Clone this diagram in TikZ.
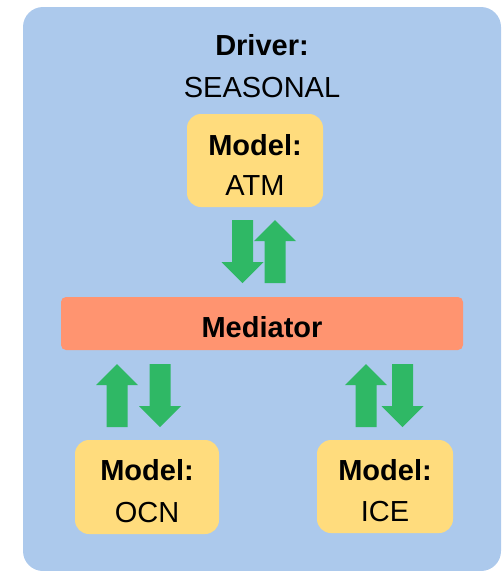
\documentclass[tikz,border=0pt]{standalone}
\usepackage{fontspec}
\setmainfont{Liberation Sans}
\definecolor{panelblue}{RGB}{172,201,236}
\definecolor{modelyellow}{RGB}{255,220,125}
\definecolor{medsalmon}{RGB}{255,148,112}
\definecolor{flowgreen}{RGB}{47,184,101}
\tikzset{
  txt/.style={font=\fontsize{29}{41}\selectfont, inner sep=0pt, anchor=base},
  boldtxt/.style={txt, font=\fontsize{29}{41}\selectfont\bfseries},
  modelbox/.style={fill=modelyellow, rounded corners=14pt, draw=none, inner sep=0pt},
  medbar/.style={fill=medsalmon, rounded corners=5pt, draw=none, inner sep=0pt},
  % block arrows: 21 wide shaft, 42 wide head, 21 long head, 63 long in all
  flowup/.pic={\fill[flowgreen] (-10.5,63) -- (-10.5,21) -- (-21,21) -- (0,0)
      -- (21,21) -- (10.5,21) -- (10.5,63) -- cycle;},
  flowdown/.pic={\fill[flowgreen] (-10.5,0) -- (-10.5,42) -- (-21,42) -- (0,63)
      -- (21,42) -- (10.5,42) -- (10.5,0) -- cycle;},
}
\begin{document}
\begin{tikzpicture}[x=1pt, y=-1pt]
  \useasboundingbox (0,0) rectangle (502,571);
  % driver panel
  \fill[panelblue, rounded corners=20pt] (23,7) rectangle (501,571);
  \node[boldtxt] (driver) at (262,55) {Driver:};
  \node[txt] (season) at (262,97) {SEASONAL};
  % models
  \node[modelbox, minimum width=136pt, minimum height=93pt] (atm) at (255,160.5) {};
  \node[boldtxt] (atmhead) at ([yshift=5.5pt]atm.center) {Model:};
  \node[txt] (atmname) at ([yshift=-35pt]atm.center) {ATM};
  \node[modelbox, minimum width=144pt, minimum height=94pt] (ocn) at (147,487) {};
  \node[boldtxt] (ocnhead) at ([yshift=6.5pt]ocn.center) {Model:};
  \node[txt] (ocnname) at ([yshift=-35pt]ocn.center) {OCN};
  \node[modelbox, minimum width=136pt, minimum height=93pt] (ice) at (385,486.5) {};
  \node[boldtxt] (icehead) at ([yshift=6.5pt]ice.center) {Model:};
  \node[txt] (icename) at ([yshift=-35pt]ice.center) {ICE};
  % mediator
  \node[medbar, minimum width=402pt, minimum height=53pt] (med) at (262,323.5) {};
  \node[boldtxt] (medtxt) at ([yshift=-13.5pt]med.center) {Mediator};
  % exchange arrows
  \pic (atmdown) at (242.5,220) {flowdown};
  \pic (atmup) at (275,220) {flowup};
  \pic (ocnup) at (117,364) {flowup};
  \pic (ocndown) at (160,364) {flowdown};
  \pic (iceup) at (366,364) {flowup};
  \pic (icedown) at (402.5,364) {flowdown};
\end{tikzpicture}
\end{document}
